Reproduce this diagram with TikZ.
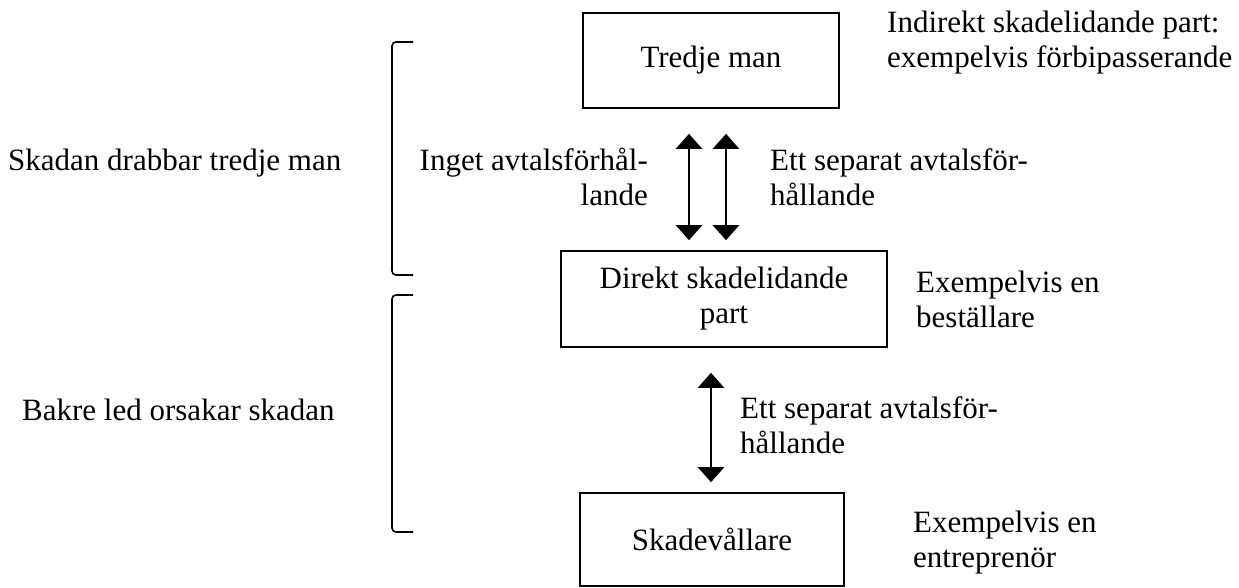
\documentclass[tikz,border=0pt]{standalone}
\usepackage{fontspec}
\setmainfont{Liberation Serif}
\usetikzlibrary{arrows.meta}
\newcommand\mylines[2]{\begin{tabular}[t]{@{}#1@{}}#2\end{tabular}}
\tikzset{
  box/.style={draw, line width=1.6pt, inner sep=0pt, align=center},
  lbl/.style={inner sep=0pt, anchor=base west},
  lblr/.style={inner sep=0pt, anchor=base east},
  dar/.style={line width=2.6pt, {Triangle[width=26pt,length=15pt]}-{Triangle[width=26pt,length=15pt]}},
  brk/.style={line width=1.6pt, rounded corners=4pt}
}
\begin{document}
\begin{tikzpicture}[x=1pt,y=-1pt,font=\fontsize{31}{35}\selectfont]
\useasboundingbox (0,0) rectangle (1239,587);
\node[box, minimum width=256pt, minimum height=95pt] (tm) at (711,60.5) {Tredje man};
\node[box, minimum width=326pt, minimum height=96pt] (dp) at (724,299) {Direkt skadelidande\\part};
\node[box, minimum width=264pt, minimum height=93pt] (sv) at (712,539.5) {Skadevållare};
% labels
\node[lbl] (t1) at (887,32) {\mylines{l}{Indirekt skadelidande part:\\exempelvis förbipasserande}};
\node[lbl] (t2) at (916,292) {\mylines{l}{Exempelvis en\\beställare}};
\node[lbl] (t3) at (913,532) {\mylines{l}{Exempelvis en\\entreprenör}};
\node[lblr] (a1) at (648,170) {\mylines{r}{Inget avtalsförhål-\\lande}};
\node[lbl] (a2) at (770,170) {\mylines{l}{Ett separat avtalsför-\\hållande}};
\node[lbl] (a3) at (740,418) {\mylines{l}{Ett separat avtalsför-\\hållande}};
\node[lbl] (s1) at (8,170) {Skadan drabbar tredje man};
\node[lbl] (s2) at (22,420) {Bakre led orsakar skadan};
% arrows
\draw[dar] ([xshift=-22pt,yshift=-25pt]tm.south) -- ([xshift=-35pt,yshift=10pt]dp.north);
\draw[dar] ([xshift=15pt,yshift=-25pt]tm.south) -- ([xshift=2pt,yshift=10pt]dp.north);
\draw[dar] ([xshift=-13pt,yshift=-25pt]dp.south) -- ([xshift=-1pt,yshift=10pt]sv.north);
% brackets
\coordinate (b1a) at (413,42); \coordinate (b1b) at (413,275);
\coordinate (b2a) at (413,295); \coordinate (b2b) at (413,532);
\draw[brk] (b1a) -- (392,42) -- (392,275) -- (b1b);
\draw[brk] (b2a) -- (392,295) -- (392,532) -- (b2b);
\end{tikzpicture}
\end{document}
